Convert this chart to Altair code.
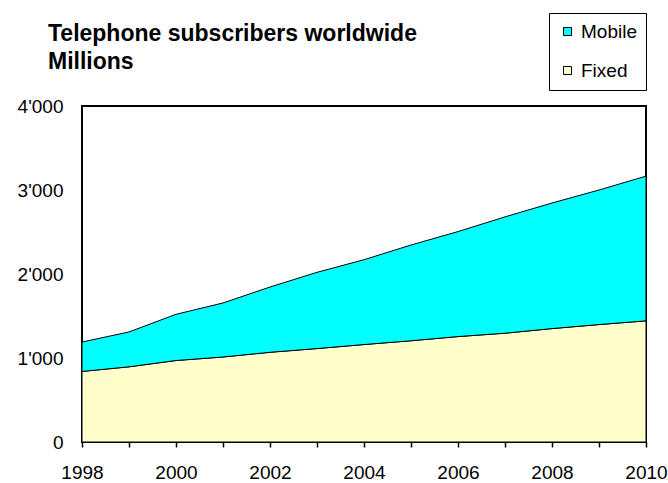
import altair as alt
import pandas as pd

years = [1998, 1999, 2000, 2001, 2002, 2003, 2004, 2005, 2006, 2007, 2008, 2009, 2010]
fixed = [840, 895, 970, 1012, 1068, 1112, 1160, 1205, 1255, 1295, 1350, 1398, 1442]
mobile = [350, 415, 550, 643, 777, 908, 1010, 1140, 1250, 1385, 1495, 1602, 1723]
series = ["Mobile", "Fixed"]
colors = ["#00FFFF", "#FFFFCC"]
title_lines = ["Telephone subscribers worldwide", "Millions"]
y_ticks = [0, 1000, 2000, 3000, 4000]

rows = []
for y, f, m in zip(years, fixed, mobile):
    rows.append({"year": y, "series": "Fixed", "value": f, "rank": 0})
    rows.append({"year": y, "series": "Mobile", "value": m, "rank": 1})
df = pd.DataFrame(rows)

FONT = "Liberation Sans"

chart = (
    alt.Chart(df)
    .mark_area(stroke="black", strokeWidth=1, opacity=1)
    .encode(
        x=alt.X(
            "year:Q",
            scale=alt.Scale(domain=[1998, 2010], nice=False, zero=False),
            axis=alt.Axis(
                values=years,
                labelExpr="datum.value % 2 == 0 ? format(datum.value, 'd') : ''",
                title=None,
                grid=False,
                domain=False,
                ticks=True,
                tickColor="black",
                tickSize=5,
                tickWidth=1.5,
                labelFlush=False,
                labelPadding=16,
                labelFont=FONT,
                labelFontSize=19,
                labelColor="black",
            ),
        ),
        y=alt.Y(
            "value:Q",
            stack="zero",
            scale=alt.Scale(domain=[0, 4000], nice=False),
            axis=alt.Axis(
                values=y_ticks,
                labelExpr="replace(format(datum.value, ','), ',', \"'\")",
                title=None,
                grid=False,
                domain=False,
                ticks=False,
                tickSize=0,
                labelPadding=19,
                labelFont=FONT,
                labelFontSize=19,
                labelColor="black",
            ),
        ),
        color=alt.Color(
            "series:N",
            scale=alt.Scale(domain=series, range=colors),
            legend=alt.Legend(
                title=None,
                orient="none",
                legendX=467,
                legendY=-93,
                strokeColor="black",
                padding=9,
                symbolType="square",
                symbolSize=64,
                symbolStrokeColor="black",
                symbolStrokeWidth=1,
                labelFont=FONT,
                labelFontSize=19,
                labelColor="black",
                labelOffset=4,
                rowPadding=19,
            ),
        ),
        order=alt.Order("rank:Q"),
    )
    .properties(
        width=564,
        height=336,
        background="white",
        autosize=alt.AutoSizeParams(type="none"),
        padding={"left": 82, "top": 106, "right": 22, "bottom": 41},
        title=alt.TitleParams(
            text=title_lines,
            anchor="start",
            frame="group",
            dx=-34,
            dy=61,
            offset=0,
            font=FONT,
            fontSize=23,
            fontWeight="bold",
            lineHeight=28,
            color="black",
        ),
    )
    .configure_view(stroke="black", strokeWidth=2)
)

chart.save("out.html", embed_options={"renderer": "svg", "actions": False})
